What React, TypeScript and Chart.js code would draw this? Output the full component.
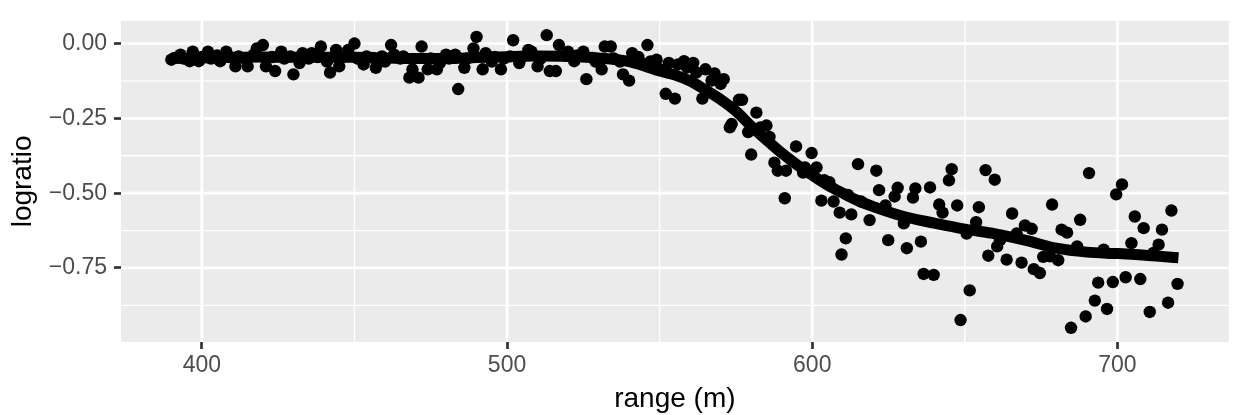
import React, { useEffect, useRef } from 'react';
import { Chart, registerables } from 'chart.js';

Chart.register(...registerables);

const ranges: number[] = [
  390, 391, 393, 394, 396, 397, 399, 400, 402, 403, 405, 406, 408, 409, 411, 412, 414, 415, 417, 418,
  420, 421, 423, 424, 426, 427, 429, 430, 432, 433, 435, 436, 438, 439, 441, 442, 444, 445, 447, 448,
  450, 451, 453, 454, 456, 457, 459, 460, 462, 463, 465, 466, 468, 469, 471, 472, 474, 475, 477, 478,
  480, 481, 483, 484, 486, 487, 489, 490, 492, 493, 495, 496, 498, 499, 501, 502, 504, 505, 507, 508,
  510, 511, 513, 514, 516, 517, 519, 520, 522, 523, 525, 526, 528, 529, 531, 532, 534, 535, 537, 538,
  540, 541, 543, 544, 546, 547, 549, 550, 552, 553, 555, 556, 558, 559, 561, 562, 564, 565, 567, 568,
  570, 571,
  573, 573.6, 576, 577, 579, 580, 581.7, 583, 585, 586, 587.6, 588.7, 591, 591.4, 594.7, 597, 597.6,
  599.8, 601.4, 603, 604, 605.6, 607, 609, 609.6, 611, 611.7, 612.8, 615, 616, 618.8, 621, 621.9, 624,
  624.9, 627, 628, 630, 631, 633, 633.8, 635.6, 636.5, 638.6, 639.8, 641.6, 642.7, 644.8, 645.7, 647.5,
  648.6, 650.6, 651.6, 653.7, 654.6, 656.8, 657.7, 659.8, 660.6, 661.5, 663.7, 665.5, 667, 668.6, 669.7,
  671.9, 672.6, 674.6, 675.7, 677.9, 678.6, 680.6, 681.7, 683.5, 684.8, 686.8, 687.8, 689.6, 690.7,
  692.6, 693.7, 695.5, 696.6, 698.5, 699.6, 701.5, 702.7, 704.6, 705.7, 707.5, 708.6, 710.6, 711.8,
  713.5, 714.6, 716.6, 717.7, 719.7,
];

const logratio: number[] = [
  -0.054, -0.048, -0.037, -0.05, -0.059, -0.027, -0.059, -0.045, -0.027, -0.05, -0.04, -0.059, -0.027, -0.045, -0.076, -0.043, -0.05, -0.076, -0.037, -0.016,
  -0.005, -0.076, -0.045, -0.092, -0.027, -0.05, -0.043, -0.103, -0.065, -0.032, -0.05, -0.032, -0.045, -0.01, -0.06, -0.097, -0.021, -0.076, -0.043, -0.021,
  0.0, -0.05, -0.07, -0.043, -0.048, -0.081, -0.043, -0.06, -0.005, -0.037, -0.05, -0.043, -0.114, -0.086, -0.114, -0.01, -0.086, -0.05, -0.086, -0.065,
  -0.037, -0.05, -0.037, -0.152, -0.081, -0.05, -0.016, 0.022, -0.086, -0.032, -0.06, -0.045, -0.086, -0.05, -0.043, 0.011, -0.065, -0.045, -0.021, -0.027,
  -0.076, -0.05, 0.028, -0.092, -0.092, -0.005, -0.04, -0.027, -0.059, -0.04, -0.027, -0.119, -0.048, -0.06, -0.086, -0.01, -0.01, -0.05, -0.06, -0.103,
  -0.124, -0.032, -0.045, -0.065, -0.005, -0.06, -0.054, -0.086, -0.168, -0.065, -0.184, -0.07, -0.059, -0.08, -0.065, -0.097, -0.184, -0.086, -0.124, -0.1,
  -0.135, -0.119,
  -0.28, -0.269, -0.188, -0.188, -0.296, -0.371, -0.231, -0.28, -0.274, -0.312, -0.398, -0.425, -0.517, -0.425, -0.344, -0.431, -0.414,
  -0.366, -0.414, -0.525, -0.457, -0.463, -0.528, -0.565, -0.705, -0.651, -0.506, -0.571, -0.403, -0.528, -0.59, -0.425, -0.49, -0.541,
  -0.657, -0.511, -0.482, -0.601, -0.684, -0.515, -0.484, -0.662, -0.77, -0.481, -0.773, -0.538, -0.565, -0.457, -0.42, -0.541,
  -0.924, -0.635, -0.825, -0.597, -0.547, -0.423, -0.709, -0.455, -0.678, -0.657, -0.722, -0.568, -0.635, -0.732, -0.608,
  -0.619, -0.754, -0.767, -0.713, -0.711, -0.538, -0.724, -0.622, -0.632, -0.95, -0.678, -0.589, -0.912, -0.433,
  -0.859, -0.799, -0.689, -0.887, -0.797, -0.504, -0.471, -0.781, -0.667, -0.578, -0.787, -0.617, -0.897, -0.7,
  -0.672, -0.622, -0.866, -0.558, -0.803,
];

const smoothRange: number[] = [
  390, 400, 410, 420, 430, 440, 450, 460, 470, 480, 490, 500, 510, 520, 530, 540, 545, 550, 555, 560,
  565, 570, 575, 580, 585, 590, 595, 600, 605, 610, 615, 620, 630, 640, 650, 660, 670, 680, 690, 700, 710, 720,
];
const smoothFit: number[] = [
  -0.05, -0.048, -0.046, -0.045, -0.046, -0.046, -0.046, -0.048, -0.05, -0.05, -0.047, -0.044, -0.042, -0.043, -0.048, -0.06, -0.075, -0.092, -0.105, -0.125,
  -0.155, -0.187, -0.226, -0.276, -0.322, -0.366, -0.405, -0.44, -0.473, -0.5, -0.525, -0.545, -0.578, -0.6, -0.62, -0.636, -0.658, -0.684, -0.697, -0.702, -0.708, -0.716,
];

const xMajor = [400, 500, 600, 700];
const xMinor = [450, 550, 650];
const yMajor = [0, -0.25, -0.5, -0.75];
const yMinor = [-0.125, -0.375, -0.625, -0.875];

const FONT = "'Liberation Sans', Arial, Helvetica, sans-serif";

const panelPlugin = {
  id: 'panelBg',
  beforeDatasetsDraw(chart: any) {
    const { ctx, chartArea: a, scales } = chart;
    const x = scales.x;
    const y = scales.y;
    ctx.save();
    ctx.fillStyle = '#EBEBEB';
    ctx.fillRect(a.left, a.top, a.right - a.left, a.bottom - a.top);
    ctx.beginPath();
    ctx.rect(a.left, a.top, a.right - a.left, a.bottom - a.top);
    ctx.clip();
    ctx.strokeStyle = '#FFFFFF';
    const vline = (v: number) => {
      const p = x.getPixelForValue(v);
      ctx.beginPath();
      ctx.moveTo(p, a.top);
      ctx.lineTo(p, a.bottom);
      ctx.stroke();
    };
    const hline = (v: number) => {
      const p = y.getPixelForValue(v);
      ctx.beginPath();
      ctx.moveTo(a.left, p);
      ctx.lineTo(a.right, p);
      ctx.stroke();
    };
    ctx.lineWidth = 1.35;
    xMinor.forEach(vline);
    yMinor.forEach(hline);
    ctx.lineWidth = 2.7;
    xMajor.forEach(vline);
    yMajor.forEach(hline);
    ctx.restore();
  },
};

export default function App() {
  const canvasRef = useRef<HTMLCanvasElement | null>(null);

  useEffect(() => {
    const canvas = canvasRef.current;
    if (!canvas) return;
    const points = ranges.map((r, i) => ({ x: r, y: logratio[i] }));
    const smooth = smoothRange.map((r, i) => ({ x: r, y: smoothFit[i] }));
    const chart = new Chart(canvas, {
      type: 'scatter',
      data: {
        datasets: [
          {
            type: 'line',
            data: smooth,
            borderColor: '#000000',
            borderWidth: 11,
            borderCapStyle: 'butt',
            borderJoinStyle: 'round',
            cubicInterpolationMode: 'monotone',
            pointRadius: 0,
            fill: false,
            order: 0,
          } as any,
          {
            type: 'scatter',
            data: points,
            backgroundColor: '#000000',
            borderWidth: 0,
            pointRadius: 6.2,
            pointHoverRadius: 6.2,
            order: 1,
          } as any,
        ],
      },
      options: {
        animation: false,
        responsive: false,
        devicePixelRatio: 1,
        layout: { padding: { top: 10, right: 3, left: 0, bottom: 0 } },
        plugins: {
          legend: { display: false },
          tooltip: { enabled: false },
        },
        events: [],
        scales: {
          x: {
            type: 'linear',
            min: 373.5,
            max: 736.5,
            afterBuildTicks: (s: any) => {
              s.ticks = xMajor.map((v) => ({ value: v }));
            },
            afterFit: (s: any) => {
              s.height = 73;
            },
            ticks: {
              autoSkip: false,
              maxRotation: 0,
              padding: 2.5,
              color: '#4D4D4D',
              font: { family: FONT, size: 23 },
              callback: (v: any) => String(v),
            },
            grid: {
              display: true,
              drawOnChartArea: false,
              drawTicks: true,
              tickLength: 7,
              tickColor: '#333333',
              tickWidth: 2.7,
            },
            border: { display: false },
            title: {
              display: true,
              text: 'range (m)',
              color: '#000000',
              font: { family: FONT, size: 28, lineHeight: 1 },
              padding: { top: 0, bottom: 1.7 },
            },
          },
          y: {
            type: 'linear',
            min: -0.9974,
            max: 0.076,
            afterBuildTicks: (s: any) => {
              s.ticks = yMajor.map((v) => ({ value: v }));
            },
            afterFit: (s: any) => {
              s.width = 121;
            },
            ticks: {
              autoSkip: false,
              padding: 7,
              color: '#4D4D4D',
              font: { family: FONT, size: 23 },
              callback: (v: any) => {
                const n = Number(v);
                return (n < 0 ? '\u2212' : '') + Math.abs(n).toFixed(2);
              },
            },
            grid: {
              display: true,
              drawOnChartArea: false,
              drawTicks: true,
              tickLength: 7,
              tickColor: '#333333',
              tickWidth: 2.7,
            },
            border: { display: false },
            title: {
              display: true,
              text: 'logratio',
              color: '#000000',
              font: { family: FONT, size: 28, lineHeight: 1.2 },
              padding: { top: 6.5, bottom: 0 },
            },
          },
        },
      } as any,
      plugins: [panelPlugin],
    });
    return () => chart.destroy();
  }, []);

  return (
    <div style={{ position: 'fixed', left: 0, top: 0, width: 1235, height: 415, background: '#FFFFFF' }}>
      <canvas ref={canvasRef} width={1235} height={415} style={{ display: 'block' }} />
    </div>
  );
}
